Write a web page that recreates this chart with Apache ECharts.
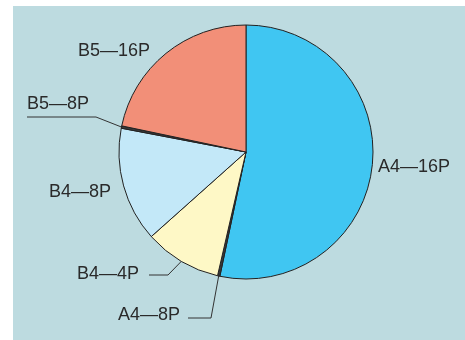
<!DOCTYPE html>
<html>
<head>
<meta charset="utf-8">
<script src="https://cdn.jsdelivr.net/npm/echarts@6/dist/echarts.min.js"></script>
<style>
  html, body { margin: 0; padding: 0; background: #ffffff; }
  #chart { width: 465px; height: 340px; }
</style>
</head>
<body>
<div id="chart"></div>
<script>
// Share of page formats (percent), clockwise from 12 o'clock
const categories = ['A4—16P', 'A4—8P', 'B4—4P', 'B4—8P', 'B5—8P', 'B5—16P'];
const shares = [53.3, 0.3, 9.8, 14.6, 0.3, 21.7];
const sliceColors = ['#40c6f2', '#3a3a3a', '#fef8c6', '#c3e8f8', '#3a3a3a', '#f28f78'];

// Label placement per category: anchor point, alignment, and leader-line shape
const labelSpots = {
  'A4—16P': { x: 378, y: 167, align: 'left',  line: null },
  'A4—8P':  { x: 180, y: 315, align: 'right', line: { bend: [211, 318], end: [188, 318] } },
  'B4—4P':  { x: 139, y: 274, align: 'right', line: { bend: [168, 275], end: [149, 275] } },
  'B4—8P':  { x: 111, y: 192, align: 'right', line: null },
  'B5—8P':  { x: 27,  y: 104, align: 'left',  line: { bend: [96, 117], end: [27, 117] } },
  'B5—16P': { x: 150, y: 51,  align: 'right', line: null }
};

const chart = echarts.init(document.getElementById('chart'), null, { renderer: 'canvas' });

const data = categories.map((name, i) => ({
  name: name,
  value: shares[i],
  itemStyle: { color: sliceColors[i] },
  labelLine: { show: !!labelSpots[name].line }
}));

chart.setOption({
  backgroundColor: '#ffffff',
  animation: false,
  graphic: [{
    type: 'rect',
    z: -10,
    shape: { x: 13, y: 6, width: 452, height: 334 },
    style: { fill: '#bddbe0' },
    silent: true
  }],
  series: [{
    type: 'pie',
    center: [246, 152],
    radius: 127,
    startAngle: 90,
    clockwise: true,
    minAngle: 0,
    avoidLabelOverlap: false,
    data: data,
    itemStyle: { borderColor: '#222222', borderWidth: 1 },
    emphasis: { disabled: true },
    label: {
      show: true,
      position: 'outside',
      formatter: '{b}',
      color: '#2a2a2a',
      fontFamily: '"Liberation Sans", Arial, sans-serif',
      fontSize: 18
    },
    labelLine: {
      show: true,
      length: 10,
      length2: 10,
      lineStyle: { color: '#333333', width: 1 }
    },
    labelLayout: function (params) {
      const name = categories[params.dataIndex];
      const spot = labelSpots[name];
      const out = {
        x: spot.x,
        y: spot.y,
        align: spot.align,
        verticalAlign: 'middle'
      };
      if (spot.line && params.labelLinePoints) {
        const start = params.labelLinePoints[0];
        out.labelLinePoints = [start, spot.line.bend, spot.line.end];
      }
      return out;
    }
  }]
});
</script>
</body>
</html>
